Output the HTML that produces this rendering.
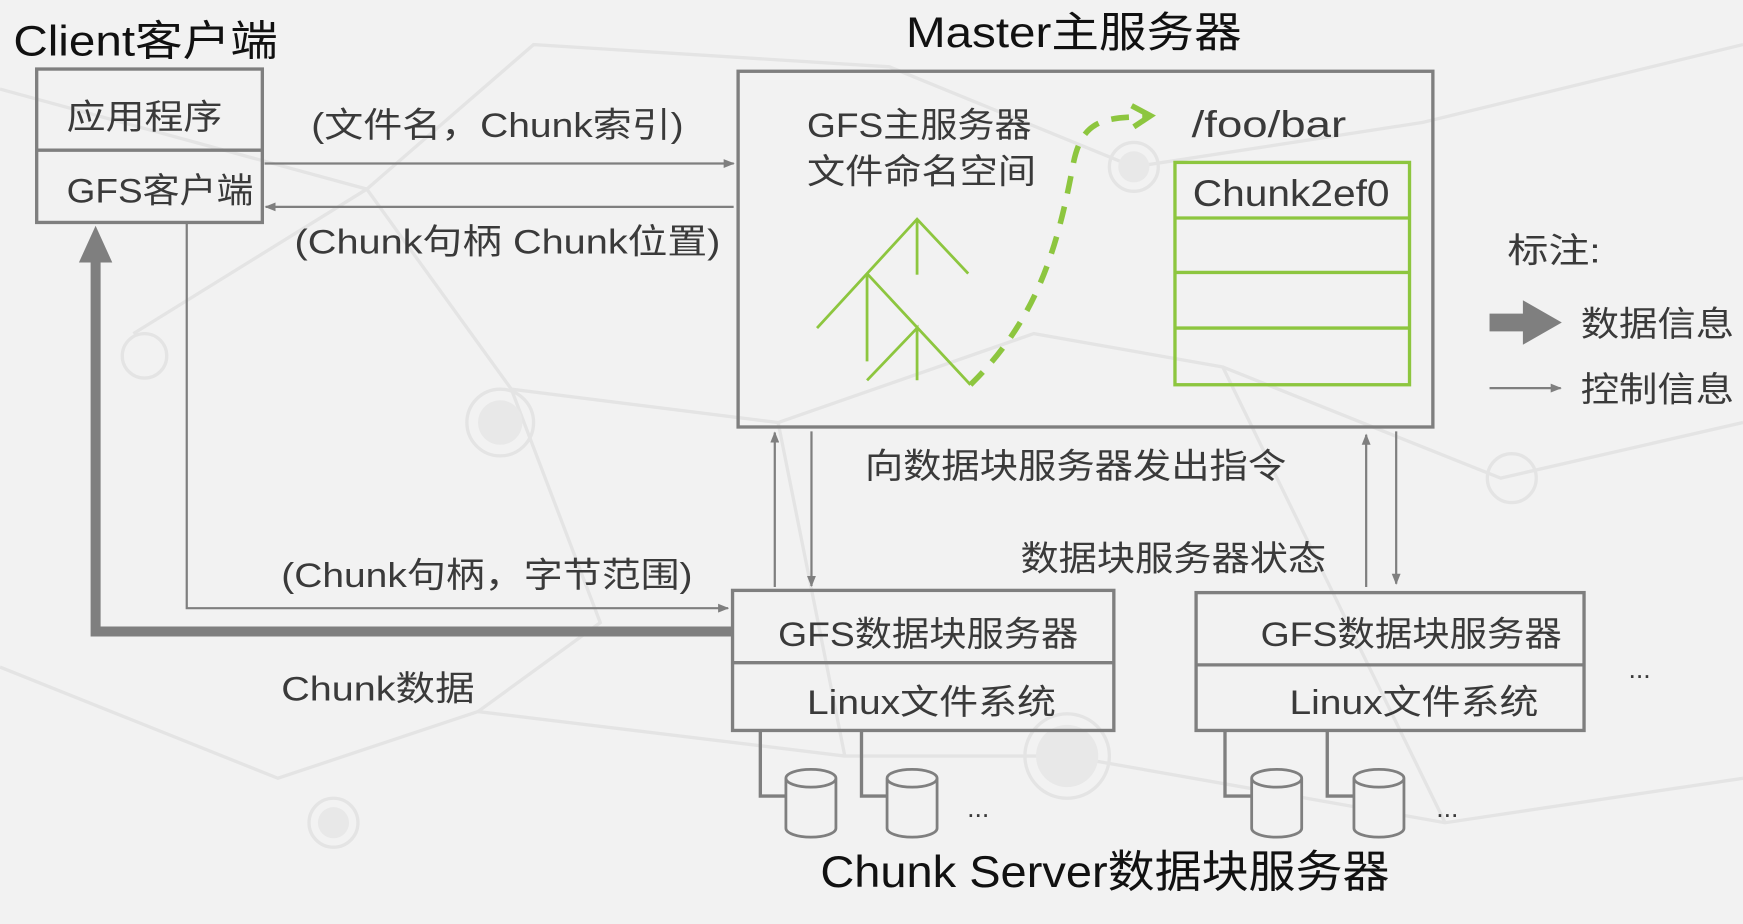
<!DOCTYPE html>
<html><head><meta charset="utf-8"><style>
html,body{margin:0;padding:0;background:#f2f2f2;}
svg{display:block}
text{font-family:"Liberation Sans","Noto Sans CJK SC",sans-serif;fill:#3a3a3a}
</style></head><body>
<svg width="1743" height="924" viewBox="0 0 1568 831" xmlns="http://www.w3.org/2000/svg">
<defs>
<marker id="ah" markerWidth="10" markerHeight="8" refX="9" refY="4" orient="auto" markerUnits="userSpaceOnUse"><path d="M0,0 L10,4 L0,8 Z" fill="#7f7f7f"/></marker>
</defs>
<rect width="1568" height="831" fill="#f2f2f2"/>
<g stroke="#e4e4e4" stroke-width="3" fill="none">
<path d="M0,80 L330,170 L460,350 L700,380 L930,300 L1100,330 L1350,430 L1568,380"/>
<path d="M120,300 L330,170 L480,40 L800,60 L1020,150 L1280,110 L1568,40"/>
<path d="M0,600 L250,700 L430,640 L760,680 L960,680 L1300,740 L1568,700"/>
<path d="M460,350 L540,560 L430,640 M700,380 L760,680 M1100,330 L1300,740"/>
<circle cx="450" cy="380" r="30"/><circle cx="960" cy="680" r="38"/><circle cx="1020" cy="150" r="22"/><circle cx="300" cy="740" r="22"/><circle cx="1360" cy="430" r="22"/><circle cx="130" cy="320" r="20"/>
</g>
<g fill="#e8e8e8"><circle cx="450" cy="380" r="20"/><circle cx="960" cy="680" r="28"/><circle cx="1020" cy="150" r="14"/><circle cx="300" cy="740" r="14"/></g>

<text x="12" y="50" font-size="38" style="fill:#111" textLength="238" lengthAdjust="spacingAndGlyphs">Client客户端</text>
<text x="815" y="42" font-size="38" style="fill:#111" textLength="302" lengthAdjust="spacingAndGlyphs">Master主服务器</text>
<text x="738" y="798" font-size="40" style="fill:#111" textLength="512" lengthAdjust="spacingAndGlyphs">Chunk Server数据块服务器</text>

<g fill="none" stroke="#7f7f7f" stroke-width="3">
<rect x="33" y="62" width="203" height="138"/>
<line x1="33" y1="135" x2="236" y2="135"/>
<rect x="664" y="64" width="625" height="320"/>
<rect x="659" y="531" width="343" height="126"/><line x1="659" y1="596" x2="1002" y2="596"/>
<rect x="1076" y="533" width="349" height="124"/><line x1="1076" y1="598" x2="1425" y2="598"/>
</g>
<text x="60" y="116" font-size="31" textLength="140" lengthAdjust="spacingAndGlyphs">应用程序</text>
<text x="60" y="182" font-size="31" textLength="168" lengthAdjust="spacingAndGlyphs">GFS客户端</text>

<g stroke="#7f7f7f" stroke-width="2" fill="none" marker-end="url(#ah)">
<line x1="238" y1="147" x2="660" y2="147"/>
<line x1="660" y1="186" x2="239" y2="186"/>
<polyline points="168,200 168,547 655,547"/>
<line x1="697" y1="528" x2="697" y2="389"/>
<line x1="730" y1="388" x2="730" y2="527"/>
<line x1="1229" y1="528" x2="1229" y2="391"/>
<line x1="1256" y1="388" x2="1256" y2="525"/>
<line x1="1340" y1="349" x2="1404" y2="349"/>
</g>
<text x="280" y="123" font-size="31" textLength="335" lengthAdjust="spacingAndGlyphs">(文件名，Chunk索引)</text>
<text x="265" y="228" font-size="31" textLength="383" lengthAdjust="spacingAndGlyphs">(Chunk句柄 Chunk位置)</text>
<text x="253" y="528" font-size="31" textLength="370" lengthAdjust="spacingAndGlyphs">(Chunk句柄，字节范围)</text>
<text x="253" y="630" font-size="31" textLength="174" lengthAdjust="spacingAndGlyphs">Chunk数据</text>
<text x="778" y="430" font-size="31" textLength="379" lengthAdjust="spacingAndGlyphs">向数据块服务器发出指令</text>
<text x="918" y="513" font-size="31" textLength="275" lengthAdjust="spacingAndGlyphs">数据块服务器状态</text>

<polyline points="659,568 86,568 86,232" fill="none" stroke="#7f7f7f" stroke-width="9"/>
<path d="M71,236 L86,203 L101,236 Z" fill="#7f7f7f"/>

<text x="726" y="123" font-size="31" textLength="202" lengthAdjust="spacingAndGlyphs">GFS主服务器</text>
<text x="726" y="165" font-size="31" textLength="206" lengthAdjust="spacingAndGlyphs">文件命名空间</text>
<text x="1072" y="123" font-size="33" textLength="139" lengthAdjust="spacingAndGlyphs">/foo/bar</text>
<g stroke="#8dc63f" stroke-width="2.5" fill="none">
<polyline points="735,295 825,197 871,246"/>
<line x1="825" y1="197" x2="825" y2="247"/>
<polyline points="780,246 873,346"/>
<line x1="780" y1="246" x2="780" y2="325"/>
<polyline points="780,342 825,295 825,342"/>
</g>
<path d="M873,346 C930,290 950,230 965,150 C972,110 990,105 1030,105" fill="none" stroke="#8dc63f" stroke-width="5" stroke-dasharray="16,12"/>
<polyline points="1018,95 1035,104 1020,114" fill="none" stroke="#8dc63f" stroke-width="5"/>
<g fill="none" stroke="#8dc63f" stroke-width="3">
<rect x="1057" y="146" width="211" height="200"/>
<line x1="1057" y1="196" x2="1268" y2="196"/>
<line x1="1057" y1="245" x2="1268" y2="245"/>
<line x1="1057" y1="295" x2="1268" y2="295"/>
</g>
<text x="1073" y="185" font-size="33" textLength="177" lengthAdjust="spacingAndGlyphs">Chunk2ef0</text>

<text x="1356" y="236" font-size="31" textLength="84" lengthAdjust="spacingAndGlyphs">标注:</text>
<path d="M1340,282 L1370,282 L1370,270 L1405,290 L1370,310 L1370,298 L1340,298 Z" fill="#7f7f7f"/>
<text x="1422" y="302" font-size="31" textLength="138" lengthAdjust="spacingAndGlyphs">数据信息</text>
<text x="1422" y="361" font-size="31" textLength="138" lengthAdjust="spacingAndGlyphs">控制信息</text>

<text x="700" y="581" font-size="31" textLength="270" lengthAdjust="spacingAndGlyphs">GFS数据块服务器</text>
<text x="726" y="642" font-size="31" textLength="224" lengthAdjust="spacingAndGlyphs">Linux文件系统</text>
<text x="1134" y="581" font-size="31" textLength="271" lengthAdjust="spacingAndGlyphs">GFS数据块服务器</text>
<text x="1160" y="642" font-size="31" textLength="224" lengthAdjust="spacingAndGlyphs">Linux文件系统</text>
<text x="1465" y="610" font-size="24">...</text>

<g fill="none" stroke="#7f7f7f" stroke-width="3">
<polyline points="684,657 684,716 708,716"/>
<polyline points="775,657 775,716 798,716"/>
<polyline points="1102,657 1102,716 1126,716"/>
<polyline points="1194,657 1194,716 1218,716"/>
</g>
<g fill="#f2f2f2" stroke="#7f7f7f" stroke-width="2.5">
<path d="M707,700 L707,745 A22.5,8 0 0 0 752,745 L752,700 A22.5,8 0 0 0 707,700 A22.5,8 0 0 0 752,700"/>
<path d="M798,700 L798,745 A22.5,8 0 0 0 843,745 L843,700 A22.5,8 0 0 0 798,700 A22.5,8 0 0 0 843,700"/>
<path d="M1126,700 L1126,745 A22.5,8 0 0 0 1171,745 L1171,700 A22.5,8 0 0 0 1126,700 A22.5,8 0 0 0 1171,700"/>
<path d="M1218,700 L1218,745 A22.5,8 0 0 0 1263,745 L1263,700 A22.5,8 0 0 0 1218,700 A22.5,8 0 0 0 1263,700"/>
</g>
<text x="870" y="735" font-size="24">...</text>
<text x="1292" y="735" font-size="24">...</text>
</svg>
</body></html>
